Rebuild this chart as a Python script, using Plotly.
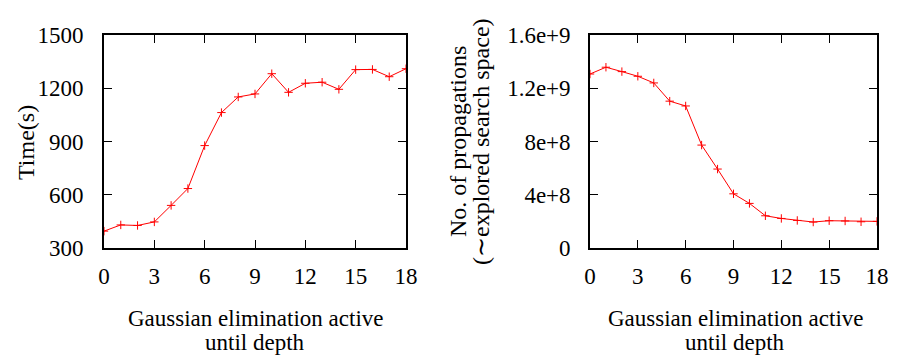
import plotly.graph_objects as go

depth = list(range(19))
time_s = [395, 430, 427, 447, 540, 635, 877, 1063, 1151, 1168, 1282, 1177,
          1228, 1234, 1194, 1305, 1306, 1265, 1310]
propagations = [1.307e9, 1.358e9, 1.325e9, 1.290e9, 1.240e9, 1.103e9, 1.067e9,
                0.773e9, 0.593e9, 0.407e9, 0.335e9, 0.242e9, 0.222e9, 0.207e9,
                0.195e9, 0.205e9, 0.203e9, 0.197e9, 0.200e9]

x_ticks = [0, 3, 6, 9, 12, 15, 18]
time_ticks = [300, 600, 900, 1200, 1500]
prop_ticks = [0, 4e8, 8e8, 1.2e9, 1.6e9]
prop_tick_text = ["0", "4e+8", "8e+8", "1.2e+9", "1.6e+9"]

x_title_lines = ["Gaussian elimination active", "until depth"]
left_y_title = "Time(s)"
right_y_title_lines = ["No. of propagations", "(∼explored search space)"]

FONT = "Liberation Serif"
RED = "#ff0000"
OFF = 8                    # page body margin
W, H = 898 - OFF, 356 - OFF


def fx(px):
    return (px - OFF) / W


def fy(py):
    return 1 - (py - OFF) / H


fig = go.Figure()
for xa, ya, vals in [("x", "y", time_s), ("x2", "y2", propagations)]:
    fig.add_trace(go.Scatter(x=depth, y=vals, mode="lines+markers",
                             line=dict(color=RED, width=1),
                             marker=dict(symbol="cross-thin", size=6,
                                         line=dict(color=RED, width=1)),
                             xaxis=xa, yaxis=ya, showlegend=False))

common = dict(showline=True, linecolor="black", linewidth=1.6, mirror="ticks",
              ticks="inside", ticklen=8, tickwidth=1, tickcolor="black",
              showgrid=False, zeroline=False, automargin=False,
              tickfont=dict(family=FONT, size=23, color="black"))

fig.update_layout(
    template="none",
    width=W, height=H,
    margin=dict(l=0, r=0, t=0, b=0),
    paper_bgcolor="white", plot_bgcolor="white",
    xaxis=dict(domain=[fx(104), fx(406)], range=[0, 18], tickvals=x_ticks,
               anchor="y", ticklabelstandoff=7, **common),
    yaxis=dict(domain=[fy(248), fy(35)], range=[300, 1500],
               tickvals=time_ticks, anchor="x", ticklabelstandoff=14, **common),
    xaxis2=dict(domain=[fx(590), fx(877)], range=[0, 18], tickvals=x_ticks,
                anchor="y2", ticklabelstandoff=7, **common),
    yaxis2=dict(domain=[fy(248), fy(35)], range=[0, 1.6e9],
                tickvals=prop_ticks, ticktext=prop_tick_text, anchor="x2",
                ticklabelstandoff=13, **common),
)


def ann(text, px, py, size, angle=0):
    fig.add_annotation(text=text, x=fx(px), y=fy(py), xref="paper", yref="paper",
                       xanchor="center", yanchor="middle", showarrow=False,
                       textangle=angle,
                       font=dict(family=FONT, size=size, color="black"))


for cx in (255, 735):
    ann(x_title_lines[0], cx, 318, 23)
    ann(x_title_lines[1], cx, 342, 23)
ann(left_y_title, 26, 143, 24, -90)
ann(right_y_title_lines[0], 458, 142, 24, -90)
ann(right_y_title_lines[1], 481, 142, 24, -90)

fig.write_html("out.html")
